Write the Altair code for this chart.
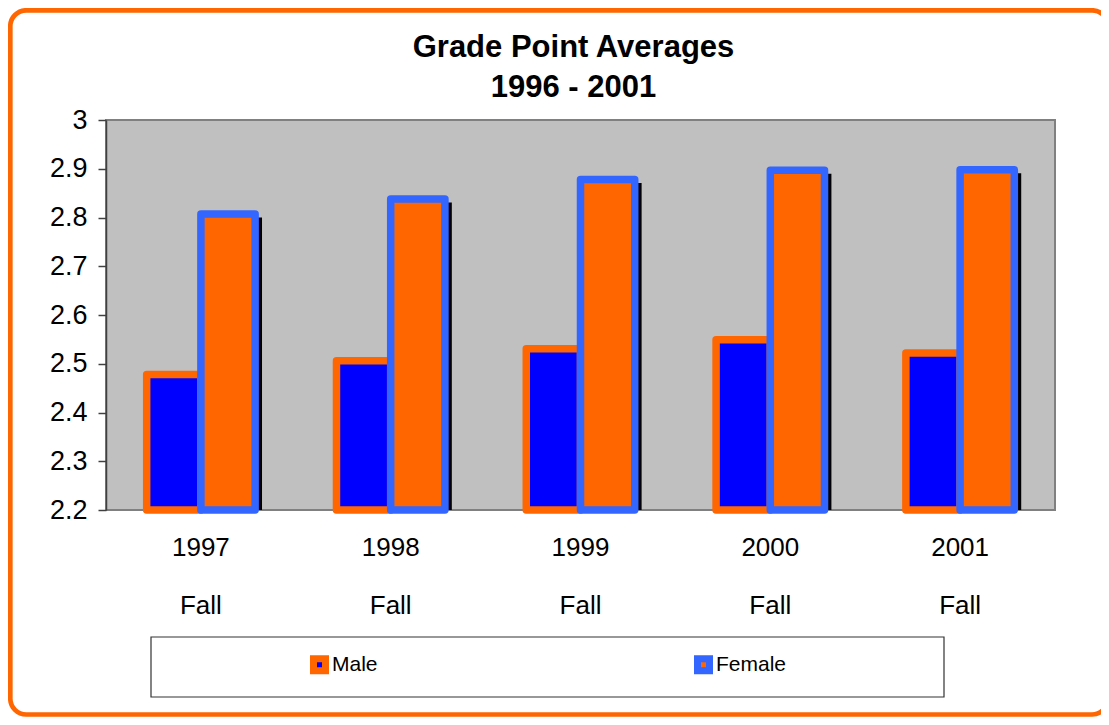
import altair as alt
import pandas as pd

FONT = "Liberation Sans"

years = ["1997", "1998", "1999", "2000", "2001"]
term = "Fall"
series = ["Male", "Female"]
male_gpa = [2.478, 2.506, 2.531, 2.549, 2.522]
female_gpa = [2.807, 2.838, 2.878, 2.897, 2.898]
y_ticks = [2.2, 2.3, 2.4, 2.5, 2.6, 2.7, 2.8, 2.9, 3.0]
y_base = 2.2
title_lines = ["Grade Point Averages", "1996 - 2001"]

fill_colors = ["#0000FF", "#FF6600"]
stroke_colors = ["#FF6600", "#3366FF"]

periods = [f"{y} {term}" for y in years]
rows = []
for s, vals in zip(series, [male_gpa, female_gpa]):
    for p, v in zip(periods, vals):
        rows.append({"period": p, "series": s, "gpa": v})
df = pd.DataFrame(rows)

W, H = 949, 390

x_enc = alt.X(
    "period:N", sort=periods,
    scale=alt.Scale(paddingInner=0.4286, paddingOuter=0.2143),
    axis=alt.Axis(title=None, labelExpr="split(datum.label, ' ')", labelFont=FONT,
                  labelFontSize=26, labelLineHeight=58, labelPadding=24,
                  labelColor="black", ticks=False, domain=False, labelAngle=0),
)
xoff = alt.XOffset("series:N", sort=series,
                   scale=alt.Scale(domain=series, paddingInner=0, paddingOuter=0))
y_enc = alt.Y(
    "gpa:Q",
    scale=alt.Scale(domain=[2.2, 3.0], nice=False, zero=False),
    axis=alt.Axis(title=None, values=y_ticks, format=".1~f", labelFont=FONT,
                  labelFontSize=27, labelColor="black", labelPadding=11,
                  tickSize=8, tickColor="#404040", domainColor="#404040",
                  domainWidth=1.5, tickWidth=1.5, grid=False),
)

leg = alt.Legend(title=None, orient="none", legendX=203, legendY=534,
                 direction="horizontal", columns=2, columnPadding=305,
                 symbolType="square", symbolSize=144, symbolStrokeWidth=7,
                 labelFont=FONT, labelFontSize=21, labelOffset=2,
                 labelColor="black", padding=0)

base = alt.Chart(df)

# drop shadow to the right of the Female bars
shadow = base.transform_filter(alt.datum.series == "Female").mark_bar(
    color="black", width=alt.RelativeBandSize(0.5), xOffset=34, yOffset=3.5
).encode(x=x_enc, y=y_enc, y2=alt.datum(y_base))

bars = base.mark_bar(strokeWidth=7.5, strokeJoin="round").encode(
    x=x_enc, xOffset=xoff, y=y_enc, y2=alt.datum(y_base),
    fill=alt.Fill("series:N", sort=series,
                  scale=alt.Scale(domain=series, range=fill_colors), legend=leg),
    stroke=alt.Stroke("series:N", sort=series,
                      scale=alt.Scale(domain=series, range=stroke_colors), legend=leg),
)

deco = alt.Data(values=[{"k": 1}])
legend_box = alt.Chart(deco).mark_rect(fill="white", stroke="#333333", strokeWidth=1.2).encode(
    x=alt.value(45), x2=alt.value(838), y=alt.value(517), y2=alt.value(577)
)
frame = alt.Chart(deco).mark_rect(
    fillOpacity=0, stroke="#FF6600", strokeWidth=4.7, cornerRadius=16
).encode(
    x=alt.value(-95.7), x2=alt.value(1002), y=alt.value(-109.7), y2=alt.value(594.5)
)

chart = alt.layer(frame, legend_box, shadow, bars).properties(
    width=W, height=H,
    background="white",
    autosize=alt.AutoSizeParams(type="none"),
    padding={"left": 98, "top": 112, "right": 46, "bottom": 207},
    title=alt.TitleParams(title_lines, font=FONT, fontSize=31, fontWeight="bold",
                          lineHeight=40, offset=-96, anchor="middle", frame="group",
                          dx=-7, color="black"),
).configure_view(
    fill="#C0C0C0", stroke="#808080", strokeWidth=2
)

chart.save("out.html", embed_options={"renderer": "svg", "actions": False})
